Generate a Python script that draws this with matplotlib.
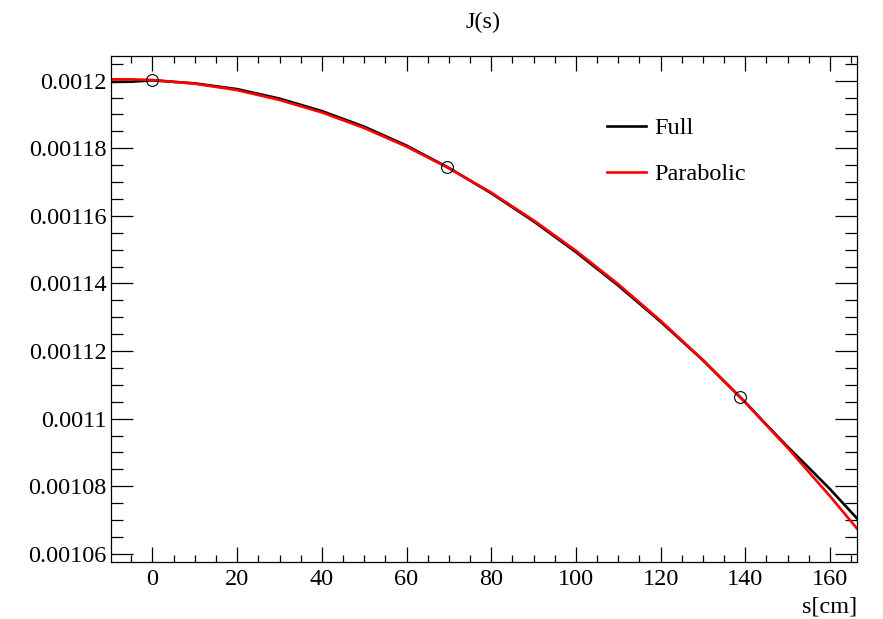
import matplotlib
matplotlib.use('Agg')
import matplotlib.pyplot as plt
from matplotlib.ticker import MultipleLocator, FuncFormatter

# values
s_full = [-10, -5, 0, 10, 20, 30, 40, 50, 60, 70, 80, 90, 100, 110, 120, 130, 140, 145, 150, 155, 160, 166.4]
j_full = [0.0011996, 0.0011997, 0.0012001, 0.0011992, 0.0011975, 0.0011947, 0.0011910, 0.0011864,
          0.0011808, 0.0011742, 0.0011667, 0.0011584, 0.0011493, 0.0011394, 0.0011287, 0.0011173,
          0.0011049, 0.0010982, 0.0010917, 0.0010855, 0.0010792, 0.0010705]

s_para = [-10, -5, 0, 10, 20, 30, 40, 50, 60, 70, 80, 90, 100, 110, 120, 130, 140, 150, 160, 166.4]
j_para = [0.0012004, 0.0012004, 0.0012002, 0.0011991, 0.0011972, 0.0011943, 0.0011906, 0.0011860,
          0.0011805, 0.0011741, 0.0011669, 0.0011587, 0.0011497, 0.0011398, 0.0011290, 0.0011174,
          0.0011048, 0.0010914, 0.0010771, 0.0010675]

s_pts = [0, 69.6, 138.8]
j_pts = [0.0012002, 0.0011744, 0.0011064]

plt.rcParams['font.family'] = ['Liberation Serif', 'DejaVu Serif']
plt.rcParams['font.size'] = 17.5

fig = plt.figure(figsize=(8.83, 6.19), dpi=100)
ax = fig.add_axes([111/883, 1 - 562/619, (857 - 111)/883, (562 - 56)/619])

ax.plot(s_full, j_full, color='black', lw=1.9, label='Full')
ax.plot(s_para, j_para, color='red', lw=1.9, label='Parabolic')
ax.plot(s_pts, j_pts, 'o', mfc='none', mec='black', ms=8.5, mew=0.8)

ax.set_xlim(-9.8, 166.4)
ax.set_ylim(0.0010576, 0.0012073)

ax.xaxis.set_major_locator(MultipleLocator(20))
ax.xaxis.set_minor_locator(MultipleLocator(5))
ax.yaxis.set_major_locator(MultipleLocator(0.00002))
ax.yaxis.set_minor_locator(MultipleLocator(0.000005))
ax.yaxis.set_major_formatter(FuncFormatter(lambda v, p: ('%.5f' % v).rstrip('0')))

ax.tick_params(which='both', direction='in', top=True, right=True, width=0.9)
ax.tick_params(axis='x', which='major', length=10.8, pad=5)
ax.tick_params(axis='x', which='minor', length=5.2)
ax.tick_params(axis='y', which='major', length=15.8, pad=3)
ax.tick_params(axis='y', which='minor', length=8.6)
ax.tick_params(labelsize=17.5)
for sp in ax.spines.values():
    sp.set_linewidth(0.9)

fig.text(483/883, 1 - 22/619, 'J(s)', ha='center', va='center', fontsize=17.5)
fig.text(857/883, 1 - 607/619, 's[cm]', ha='right', va='center', fontsize=17.5)

ax.legend(loc='upper left', bbox_to_anchor=(595/883, 1 - 105/619), bbox_transform=fig.transFigure,
          frameon=False, handlelength=1.6, handletextpad=0.35, labelspacing=1.0, borderpad=0, fontsize=17.5)

fig.savefig('out.png', dpi=100)
